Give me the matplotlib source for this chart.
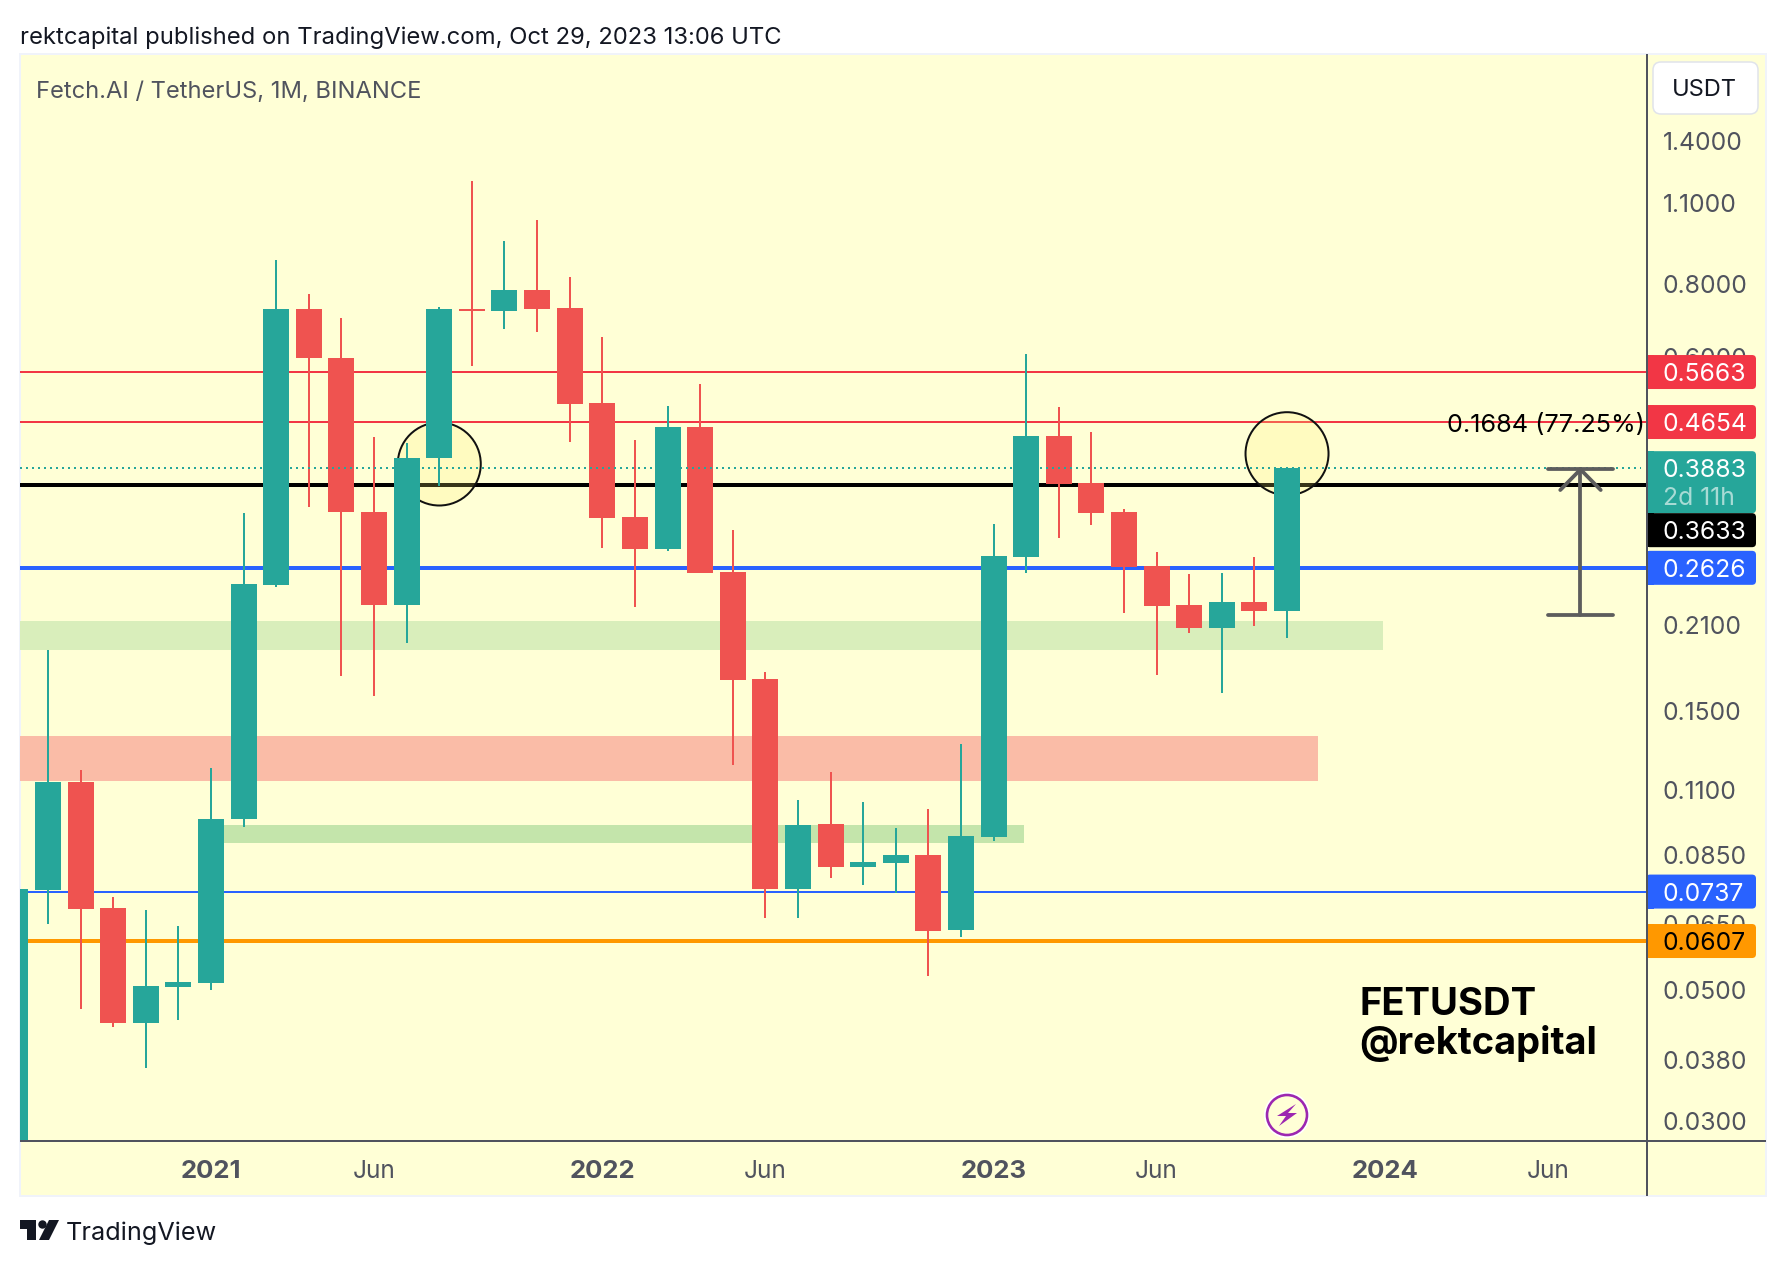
import matplotlib
matplotlib.use('Agg')
import matplotlib.pyplot as plt
from matplotlib.patches import Rectangle, FancyBboxPatch, Polygon, Circle
import numpy as np

# Monthly candles, FETUSDT (first one is cut off by the left edge)
opens = [0.0200, 0.0742, 0.1133, 0.0691, 0.0440, 0.0507, 0.0515, 0.0980, 0.2455, 0.7251,
         0.5983, 0.3269, 0.2269, 0.4041, 0.7251, 0.7195, 0.7813, 0.7280, 0.5014, 0.3205,
         0.2827, 0.4563, 0.2583, 0.1697, 0.0745, 0.0961, 0.0811, 0.0824, 0.0851, 0.0634,
         0.0913, 0.2740, 0.4405, 0.3663, 0.3269, 0.2645, 0.2269, 0.2074, 0.2296, 0.2217]
closes = [0.0745, 0.1133, 0.0688, 0.0440, 0.0509, 0.0517, 0.0980, 0.2464, 0.7251, 0.5983,
          0.3269, 0.2269, 0.4041, 0.7251, 0.7195, 0.7813, 0.7251, 0.4995, 0.3193, 0.2827,
          0.4563, 0.2573, 0.1691, 0.0745, 0.0957, 0.0811, 0.0828, 0.0851, 0.0631, 0.0917,
          0.2751, 0.4405, 0.3649, 0.3256, 0.2634, 0.2260, 0.2074, 0.2296, 0.2217, 0.3883]
highs = [0.0745, 0.1902, 0.1188, 0.0721, 0.0686, 0.0644, 0.1197, 0.3256, 0.8789, 0.7691,
         0.6999, 0.4388, 0.4286, 0.7309, 1.1984, 0.9470, 1.0283, 0.8222, 0.6497, 0.4337,
         0.4956, 0.5402, 0.3046, 0.1745, 0.1056, 0.1178, 0.1048, 0.0946, 0.1019, 0.1315,
         0.3119, 0.6078, 0.4936, 0.4475, 0.3308, 0.2794, 0.2563, 0.2573, 0.2740, 0.3883]
lows = [0.0200, 0.0649, 0.0465, 0.0433, 0.0369, 0.0445, 0.0501, 0.0950, 0.2435, 0.3334,
        0.1718, 0.1588, 0.1955, 0.3620, 0.5798, 0.6704, 0.6626, 0.4303, 0.2838, 0.2252,
        0.2805, 0.2573, 0.1211, 0.0664, 0.0664, 0.0777, 0.0756, 0.0733, 0.0529, 0.0617,
        0.0899, 0.2573, 0.2952, 0.3106, 0.2199, 0.1724, 0.2033, 0.1607, 0.2090, 0.1994]
months = np.arange(-1, 39)

# Horizontal levels
level_red = [0.5663, 0.4654]
level_black = 0.3633
level_blue_thick = 0.2626
level_blue_thin = 0.0737
level_orange = 0.0607
last_price = 0.3883

# Zones: (price top, price bottom, month start, month end)
green_zone = (0.2131, 0.1902, -0.86, 40.94)
salmon_zone = (0.1357, 0.1137, -0.86, 38.95)
green_zone_low = (0.0957, 0.0892, 5.0, 29.93)

# Circles: (month, price)
circle_points = [(12, 0.3947), (38, 0.4110)]

# Measure tool
measure_top = 0.3864
measure_bottom = 0.2180
measure_head = 0.3564
measure_month = 47
measure_text = '0.1684 (77.25%)'

price_ticks = [1.4, 1.1, 0.8, 0.6, 0.21, 0.15, 0.11, 0.085, 0.065, 0.05, 0.038, 0.03]
price_tick_labels = ['1.4000', '1.1000', '0.8000', '0.6000', '0.2100', '0.1500',
                     '0.1100', '0.0850', '0.0650', '0.0500', '0.0380', '0.0300']
time_ticks = [5, 10, 17, 22, 29, 34, 41, 46]
time_tick_labels = ['2021', 'Jun', '2022', 'Jun', '2023', 'Jun', '2024', 'Jun']

W, H = 1786, 1266
UP = '#26a69a'
DOWN = '#ef5350'
BG = '#ffffd6'
GREY = '#50535e'
INK = '#131722'
px = 0.72  # one pixel in points at dpi 100
SCALE_SIZE = 17.8
TAG_X = 1663

plt.rcParams['font.family'] = ['Inter', 'DejaVu Sans']

fig = plt.figure(figsize=(W / 100, H / 100), dpi=100, facecolor='white')

# Frame behind the chart
back = fig.add_axes([0, 0, 1, 1], zorder=0)
back.set_xlim(0, W)
back.set_ylim(H, 0)
back.axis('off')
back.add_patch(Rectangle((20, 54), 1746, 1142, facecolor=BG, edgecolor='#f0f3fa', linewidth=2 * px))

# Price chart
ax = fig.add_axes([20 / W, 1 - 1141 / H, 1627 / W, 1087 / H], zorder=1)
ax.patch.set_visible(False)
ax.set_yscale('log')
ax.set_xlim(-0.8588, 49.04)
ax.set_ylim(0.02769, 1.973)
for spine in ax.spines.values():
    spine.set_visible(False)

for top, bottom, x0, x1, color in [green_zone + ('#d9eebb',), salmon_zone + ('#fabca7',), green_zone_low + ('#c4e5ab',)]:
    ax.fill_between([x0, x1], bottom, top, color=color, linewidth=0, zorder=1)

for level in level_red:
    ax.axhline(level, color='#f23645', linewidth=2 * px, zorder=2)
ax.axhline(level_black, color='black', linewidth=4 * px, zorder=2)
ax.axhline(level_blue_thick, color='#2962ff', linewidth=4 * px, zorder=2)
ax.axhline(level_blue_thin, color='#2962ff', linewidth=2 * px, zorder=2)
ax.axhline(level_orange, color='#ff9800', linewidth=4 * px, zorder=2)

for month, price in circle_points:
    ax.scatter([month], [price], s=(83 * px) ** 2, facecolor='#fff176', alpha=0.22, linewidth=0, zorder=3)
    ax.scatter([month], [price], s=(83 * px) ** 2, facecolor='none', edgecolor='#111111',
               linewidth=2 * px, zorder=3)

colors = [UP if c >= o else DOWN for o, c in zip(opens, closes)]
body_low = np.minimum(opens, closes)
body_high = np.maximum(opens, closes)
ax.vlines(months, lows, highs, colors=colors, linewidth=2 * px, zorder=4)
ax.bar(months, body_high - body_low, bottom=body_low, width=0.797, color=colors, linewidth=0, zorder=4)

ax.plot([-0.86, 49.0 - 0.15], [last_price, last_price], color=UP, linewidth=2 * px,
        linestyle=(0, (1, 2)), zorder=5)

# Measure tool
tool = {'color': '#5d5d5d', 'linewidth': 3.8 * px, 'solid_capstyle': 'round', 'zorder': 6}
ax.plot([measure_month, measure_month], [measure_bottom, measure_top], **tool)
ax.plot([measure_month - 1.0, measure_month + 1.0], [measure_top, measure_top], **tool)
ax.plot([measure_month - 1.0, measure_month + 1.0], [measure_bottom, measure_bottom], **tool)
ax.plot([measure_month - 0.62, measure_month, measure_month + 0.62],
        [measure_head, measure_top, measure_head], **tool)
ax.annotate(measure_text, xy=(1645 / W, 1 - 425.5 / H), xycoords='figure fraction', ha='right', va='center',
            fontsize=18.1, color='black', zorder=7)

ax.yaxis.tick_right()
ax.set_yticks(price_ticks)
ax.set_yticklabels(price_tick_labels)
ax.minorticks_off()
ax.tick_params(axis='y', length=0, pad=16 * px, labelsize=SCALE_SIZE, labelcolor=GREY)
ax.set_xticks(time_ticks)
ax.set_xticklabels(time_tick_labels)
ax.tick_params(axis='x', length=0, pad=19 * px, labelsize=17.6, labelcolor=GREY)
for label, text in zip(ax.get_xticklabels(), time_tick_labels):
    if text != 'Jun':
        label.set_fontweight('bold')
        label.set_fontsize(18.5)

# Everything on top: axis lines, price tags, header, logo
top = fig.add_axes([0, 0, 1, 1], zorder=2)
top.set_xlim(0, W)
top.set_ylim(H, 0)
top.axis('off')

top.plot([20, 1766], [1141, 1141], color=GREY, linewidth=2 * px, solid_capstyle='butt')
top.plot([1647, 1647], [54, 1196], color=GREY, linewidth=2 * px, solid_capstyle='butt')


def price_y(price):
    return H - ax.transData.transform((0, price))[1]


def price_tag(y0, y1, color):
    top.add_patch(FancyBboxPatch((1646, y0), 110, y1 - y0, boxstyle='round,pad=0,rounding_size=4',
                                 facecolor=color, edgecolor='none'))
    top.add_patch(Rectangle((1646, y0), 8, y1 - y0, facecolor=color, edgecolor='none'))


tags = [(level_red[0], '%.4f' % level_red[0], '#f23645', 'white'),
        (level_red[1], '%.4f' % level_red[1], '#f23645', 'white'),
        (level_blue_thick, '%.4f' % level_blue_thick, '#2962ff', 'white'),
        (level_blue_thin, '%.4f' % level_blue_thin, '#2962ff', 'white'),
        (level_orange, '%.4f' % level_orange, '#ff9800', 'black')]
for price, label, color, text_color in tags:
    y = price_y(price)
    price_tag(y - 17, y + 17, color)
    top.text(TAG_X, y, label, ha='left', va='center_baseline', fontsize=SCALE_SIZE, color=text_color)

# Last price tag with countdown, the black level sits pushed down under it
y = price_y(last_price)
price_tag(y - 17, y + 45, UP)
top.text(TAG_X, y, '%.4f' % last_price, ha='left', va='center_baseline', fontsize=SCALE_SIZE, color='white')
top.text(TAG_X, y + 28, '2d 11h', ha='left', va='center_baseline', fontsize=SCALE_SIZE, color='#a8dbd5')
price_tag(y + 45, y + 79, 'black')
top.text(TAG_X, y + 62, '%.4f' % level_black, ha='left', va='center_baseline', fontsize=SCALE_SIZE, color='white')

# USDT button
top.add_patch(FancyBboxPatch((1653, 62), 105, 52, boxstyle='round,pad=0,rounding_size=8',
                             facecolor='white', edgecolor='#e0e3eb', linewidth=1.5 * px))
top.text(1704, 88, 'USDT', ha='center', va='center_baseline', fontsize=17, color=INK)

top.text(20, 35, 'rektcapital published on TradingView.com, Oct 29, 2023 13:06 UTC',
         ha='left', va='center_baseline', fontsize=17.15, color=INK)
top.text(36, 90, 'Fetch.AI / TetherUS, 1M, BINANCE', ha='left', va='center_baseline',
         fontsize=17.05, color=GREY)

top.text(1359, 1015, 'FETUSDT', ha='left', va='baseline', fontsize=27.5, fontweight='bold', color='black')
top.text(1359, 1054, '@rektcapital', ha='left', va='baseline', fontsize=27.4, fontweight='bold', color='black')

# Lightning badge
top.add_patch(Circle((1287, 1115), 23, facecolor='white', edgecolor='none'))
top.add_patch(Circle((1287, 1115), 20, facecolor=BG, edgecolor='#9c27b0', linewidth=2.6 * px))
bolt = [(1296, 1104), (1277, 1116), (1286, 1116), (1279, 1126), (1297, 1113), (1288, 1113)]
top.add_patch(Polygon(bolt, closed=True, facecolor='#9c27b0', edgecolor='none'))

# TradingView logo
top.add_patch(Polygon([(20, 1220), (36, 1220), (36, 1240), (27, 1240), (27, 1229), (20, 1229)],
                      closed=True, facecolor=INK, edgecolor='none'))
top.add_patch(Circle((42.5, 1224.5), 4.2, facecolor=INK, edgecolor='none'))
top.add_patch(Polygon([(49, 1220), (59, 1220), (49, 1240), (39, 1240)], closed=True, facecolor=INK, edgecolor='none'))
top.text(66, 1231, 'TradingView', ha='left', va='center_baseline', fontsize=18.2, color=INK)

fig.savefig('out.png', dpi=100)
plt.close(fig)
